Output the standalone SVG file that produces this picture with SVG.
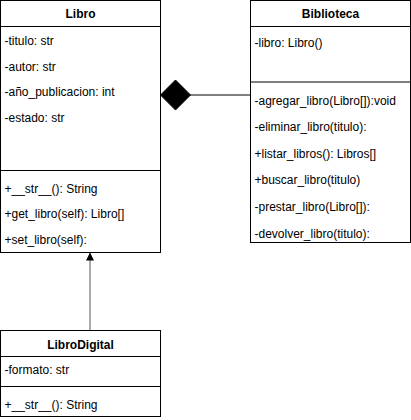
<svg xmlns="http://www.w3.org/2000/svg" width="411" height="420" viewBox="0 0 411 420">
<style>
.box{fill:#fff;stroke:#000;stroke-width:1}
.sep{stroke:#000;stroke-width:1}
.t{font-family:"Liberation Sans",Arial,sans-serif;font-size:12px;fill:#000}
.h{font-weight:bold;text-anchor:middle}
.conn{stroke:#000;stroke-width:1;fill:none}
</style>
<defs>
<marker id="tri" viewBox="0 0 8 8" refX="8" refY="4" markerWidth="8" markerHeight="8" markerUnits="userSpaceOnUse" orient="auto">
<path d="M0,0 L8,4 L0,8 Z" fill="#000"/>
</marker>
</defs>
<rect width="411" height="420" fill="#fff"/>
<g id="connectors">
<line class="conn" x1="190" y1="95" x2="250" y2="95"/>
<path d="M160.5,95 L175.5,80 L190.5,95 L175.5,110 Z" fill="#000" stroke="#000"/>
<line x1="90" y1="330" x2="90" y2="252.5" stroke="#555" stroke-width="1" marker-end="url(#tri)"/>
</g>
<g id="Libro">
<rect class="box" x="0.5" y="0.5" width="160" height="252"/>
<line class="sep" x1="0.5" y1="26.5" x2="160.5" y2="26.5"/>
<line class="sep" x1="0.5" y1="170.5" x2="160.5" y2="170.5"/>
<text class="t h" x="80.5" y="18">Libro</text>
<text class="t" x="4.5" y="44.5">-titulo: str</text>
<text class="t" x="4.5" y="70.5">-autor: str</text>
<text class="t" x="4.5" y="96">-año_publicacion: int</text>
<text class="t" x="4.5" y="122">-estado: str</text>
<text class="t" x="4.5" y="192.5">+__str__(): String</text>
<text class="t" x="4.5" y="218">+get_libro(self): Libro[]</text>
<text class="t" x="4.5" y="244">+set_libro(self):</text>
</g>
<g id="Biblioteca">
<rect class="box" x="250.5" y="0.5" width="160" height="242"/>
<line class="sep" x1="250.5" y1="26.5" x2="410.5" y2="26.5"/>
<line class="sep" x1="250.5" y1="82" x2="410.5" y2="82"/>
<text class="t h" x="330.5" y="18">Biblioteca</text>
<text class="t" x="254.5" y="46.5">-libro: Libro()</text>
<text class="t" x="254.5" y="104.5">-agregar_libro(Libro[]):void</text>
<text class="t" x="254.5" y="130.5">-eliminar_libro(titulo):</text>
<text class="t" x="254.5" y="157.5">+listar_libros(): Libros[]</text>
<text class="t" x="254.5" y="184">+buscar_libro(titulo)</text>
<text class="t" x="254.5" y="210.5">-prestar_libro(Libro[]):</text>
<text class="t" x="254.5" y="237.5">-devolver_libro(titulo):</text>
</g>
<g id="LibroDigital">
<rect class="box" x="0.5" y="330.5" width="160" height="86"/>
<line class="sep" x1="0.5" y1="356.5" x2="160.5" y2="356.5"/>
<line class="sep" x1="0.5" y1="386.5" x2="160.5" y2="386.5"/>
<text class="t h" x="80.5" y="348.5">LibroDigital</text>
<text class="t" x="4.5" y="373.5">-formato: str</text>
<text class="t" x="4.5" y="408.5">+__str__(): String</text>
</g>
</svg>
